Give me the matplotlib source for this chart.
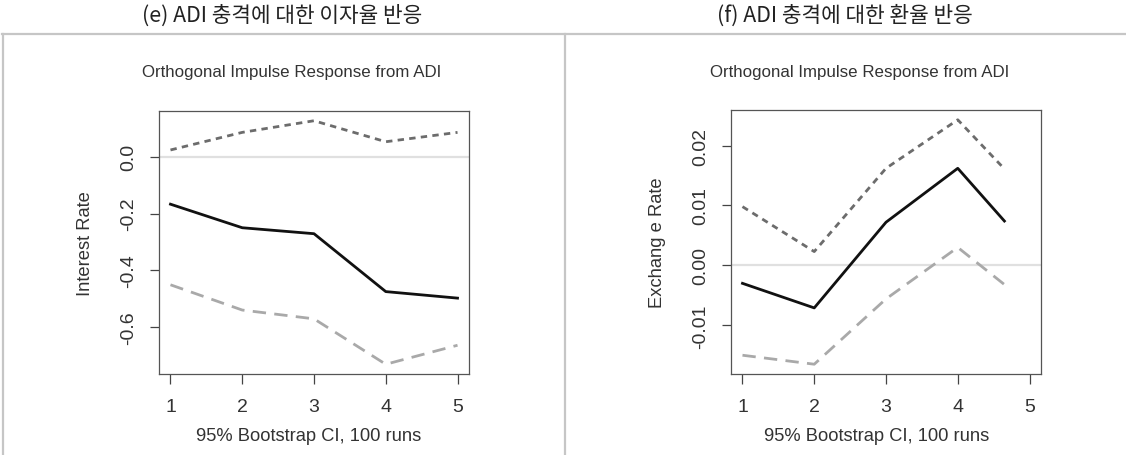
import matplotlib
matplotlib.use("Agg")
import matplotlib.pyplot as plt
from matplotlib.lines import Line2D

# ---- data ----
steps_e = [1, 2, 3, 4, 5]
irf_e = [-0.167, -0.250, -0.271, -0.475, -0.498]
upper_e = [0.024, 0.086, 0.127, 0.053, 0.086]
lower_e = [-0.451, -0.540, -0.571, -0.731, -0.664]

steps_f = [1, 2, 3, 4, 4.65]
irf_f = [-0.0030, -0.0071, 0.0072, 0.0162, 0.0074]
upper_f = [0.0098, 0.0023, 0.0162, 0.0243, 0.0161]
lower_f = [-0.0150, -0.0165, -0.0056, 0.0030, -0.0032]

xticks = [1, 2, 3, 4, 5]
yticks_e = [0.0, -0.2, -0.4, -0.6]
yticklabels_e = ["0.0", "-0.2", "-0.4", "-0.6"]
yticks_f = [-0.01, 0.0, 0.01, 0.02]
yticklabels_f = ["-0.01", "0.00", "0.01", "0.02"]

panel_titles = ["(e) ADI 충격에 대한 이자율 반응", "(f) ADI 충격에 대한 환율 반응"]
main_title = "Orthogonal Impulse Response from ADI"
xlabel = "95% Bootstrap CI, 100 runs"
ylabels = ["Interest Rate", "Exchang e Rate"]

W, H = 1126, 456
DPI = 100
fig = plt.figure(figsize=(W / DPI, H / DPI), dpi=DPI)
renderer = fig.canvas.get_renderer()

LATIN = ["Liberation Sans", "DejaVu Sans"]
KOR = ["Noto Sans CJK KR", "DejaVu Sans"]


def fx(px):
    return px / W


def fy(py):
    return 1 - py / H


def fit_size(text, family, target_px):
    t = fig.text(0, 0, text, family=family, fontsize=10)
    w = t.get_window_extent(renderer).width
    t.remove()
    return 10 * target_px / w


# frame lines
frame_color = "#c6c6c6"
fig.add_artist(Line2D([fx(2), 1.0], [fy(35), fy(35)], color=frame_color, lw=1.6))
fig.add_artist(Line2D([fx(3), fx(3)], [fy(35), 0], color=frame_color, lw=1.6))
fig.add_artist(Line2D([fx(565), fx(565)], [fy(35), 0], color=frame_color, lw=1.6))

boxes = [(159, 469, 112, 375), (731, 1041, 111, 375)]
xlabel_cx = [309, 877]
axes = [fig.add_axes([fx(l), fy(b), fx(r - l), (b - t) / H]) for l, r, t, b in boxes]

lab_size = fit_size(xlabel, LATIN, 226)
tick_size = 14
px2pt = 72 / DPI

specs = [
    (steps_e, irf_e, upper_e, lower_e, yticks_e, yticklabels_e, ylabels[0]),
    (steps_f, irf_f, upper_f, lower_f, yticks_f, yticklabels_f, ylabels[1]),
]

for ax, (l, r, t, b), cx, (xs, mid, up, lo, yt, ytl, yl) in zip(axes, boxes, xlabel_cx, specs):
    ax.axhline(0, color="#e0e0e0", lw=1.6, zorder=1)
    ax.plot(xs, up, color="#6c6c6c", lw=2.0, dashes=(2.3, 1.9), zorder=2)
    ax.plot(xs, lo, color="#a9a9a9", lw=2.0, dashes=(4.8, 3.0), zorder=2)
    ax.plot(xs, mid, color="#111111", lw=2.0, zorder=3)
    allv = up + lo + mid
    lo_v, hi_v = min(allv), max(allv)
    pad = (hi_v - lo_v) * 0.04
    ax.set_ylim(lo_v - pad, hi_v + pad)
    ax.set_xlim(1 - 4 * 0.04, 5 + 4 * 0.04)
    ax.set_xticks(xticks)
    ax.set_xticklabels([str(v) for v in xticks], family=LATIN, fontsize=tick_size,
                       color="#333333")
    ax.set_yticks(yt)
    ax.set_yticklabels(ytl, family=LATIN, fontsize=tick_size, color="#333333",
                       rotation=90, va="center")
    ax.tick_params(axis="x", length=9.5 * px2pt, width=0.9, color="#444444",
                   pad=15 * px2pt)
    ax.tick_params(axis="y", length=9.5 * px2pt, width=0.9, color="#444444",
                   pad=12 * px2pt)
    for s in ax.spines.values():
        s.set_color("#555555")
        s.set_linewidth(0.9)
    hgt = b - t
    wid = r - l
    ax.set_xlabel(xlabel, family=LATIN, fontsize=lab_size, color="#333333")
    ax.xaxis.set_label_coords((cx - l) / wid, -(437 - b) / hgt)
    ax.xaxis.label.set_verticalalignment("center")
    ax.set_ylabel(yl, family=LATIN, fontsize=lab_size, color="#333333")
    ax.yaxis.set_label_coords(-74 / wid, 0.5)
    ax.yaxis.label.set_verticalalignment("center")

# titles
ksize = fit_size(panel_titles[0], KOR, 280)
fig.text(fx(282), fy(16), panel_titles[0], family=KOR, fontsize=ksize, color="#222222",
         ha="center", va="center")
fig.text(fx(845), fy(16), panel_titles[1], family=KOR, fontsize=ksize, color="#222222",
         ha="center", va="center")
msize = fit_size(main_title, LATIN, 300)
fig.text(fx(142), fy(72), main_title, family=LATIN, fontsize=msize, color="#333333",
         ha="left", va="center")
fig.text(fx(710), fy(72), main_title, family=LATIN, fontsize=msize, color="#333333",
         ha="left", va="center")

fig.savefig("out.png", dpi=DPI, facecolor="white")
